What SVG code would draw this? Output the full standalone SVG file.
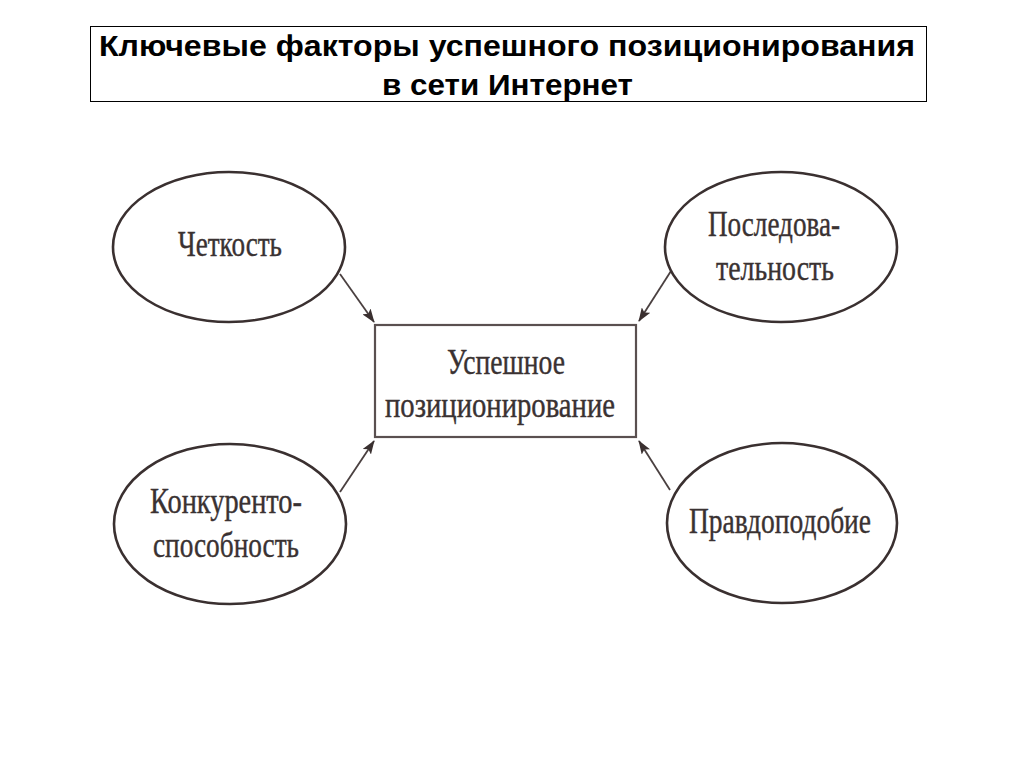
<svg xmlns="http://www.w3.org/2000/svg" width="1024" height="768" viewBox="0 0 1024 768">
<defs>
<style>
.title{font-family:"Liberation Sans",Arial,sans-serif;font-weight:bold;font-size:30px;fill:#000;text-anchor:middle}
.lbl{font-family:"Liberation Serif","Times New Roman",serif;font-size:35px;fill:#3a3232;stroke:#3a3232;stroke-width:0.4;text-anchor:middle}
.ell{fill:none;stroke:#3a3030;stroke-width:2.6}
.box{fill:none;stroke:#5a5050;stroke-width:2.2}
.con{fill:none;stroke:#4a4040;stroke-width:1.8;marker-end:url(#ah)}
</style>
<marker id="ah" viewBox="0 0 14 10" refX="13" refY="5" markerWidth="14" markerHeight="10" markerUnits="userSpaceOnUse" orient="auto">
<path d="M0,0 L14,5 L0,10 L3,5 Z" fill="#3a3030"/>
</marker>
</defs>
<rect width="1024" height="768" fill="#fff"/>
<g id="title">
<rect x="90.5" y="26.5" width="836" height="75" fill="#fff" stroke="#000" stroke-width="1"/>
<text class="title" x="507" y="56" textLength="816" lengthAdjust="spacingAndGlyphs">Ключевые факторы успешного позиционирования</text>
<text class="title" x="507.5" y="95" textLength="251" lengthAdjust="spacingAndGlyphs">в сети Интернет</text>
</g>
<g id="connectors">
<line class="con" x1="340" y1="274" x2="374" y2="322"/>
<line class="con" x1="671" y1="271" x2="639" y2="321"/>
<line class="con" x1="340" y1="492" x2="374" y2="441"/>
<line class="con" x1="670" y1="490" x2="639" y2="441"/>
</g>
<g id="center">
<rect class="box" x="375" y="325" width="261" height="112"/>
<text class="lbl" x="506" y="374" textLength="118" lengthAdjust="spacingAndGlyphs">Успешное</text>
<text class="lbl" x="500" y="417" textLength="230" lengthAdjust="spacingAndGlyphs">позиционирование</text>
</g>
<g id="n1">
<ellipse class="ell" cx="229" cy="247" rx="116" ry="75"/>
<text class="lbl" x="230" y="256" textLength="104" lengthAdjust="spacingAndGlyphs">Четкость</text>
</g>
<g id="n2">
<ellipse class="ell" cx="781" cy="247" rx="116" ry="75"/>
<text class="lbl" x="774" y="236" textLength="132" lengthAdjust="spacingAndGlyphs">Последова-</text>
<text class="lbl" x="775" y="280" textLength="118" lengthAdjust="spacingAndGlyphs">тельность</text>
</g>
<g id="n3">
<ellipse class="ell" cx="230" cy="524" rx="116" ry="80"/>
<text class="lbl" x="226" y="513" textLength="152" lengthAdjust="spacingAndGlyphs">Конкуренто-</text>
<text class="lbl" x="226" y="557" textLength="146" lengthAdjust="spacingAndGlyphs">способность</text>
</g>
<g id="n4">
<ellipse class="ell" cx="782" cy="523" rx="115" ry="80"/>
<text class="lbl" x="780" y="533" textLength="182" lengthAdjust="spacingAndGlyphs">Правдоподобие</text>
</g>
</svg>
